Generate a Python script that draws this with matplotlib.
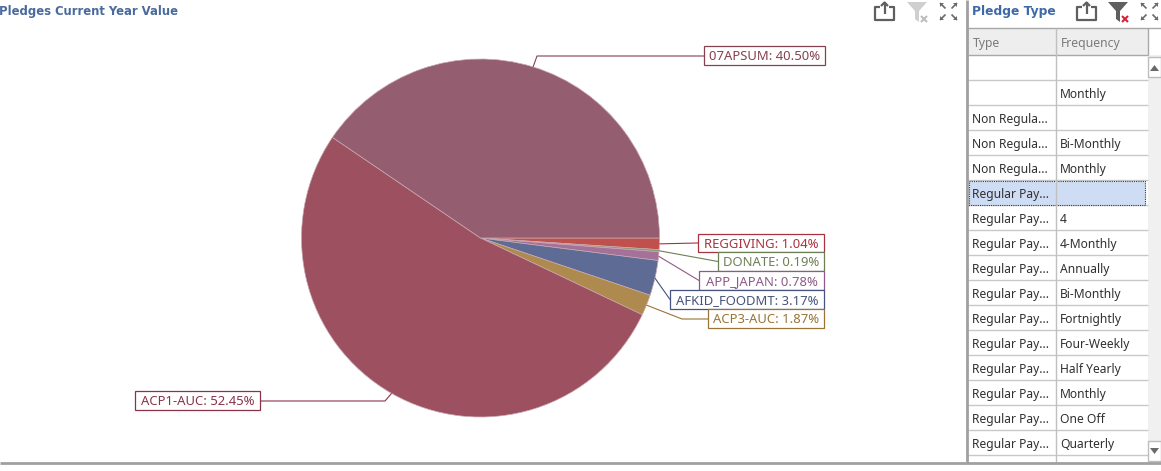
import numpy as np
import matplotlib
matplotlib.use('Agg')
import matplotlib.pyplot as plt
from matplotlib.patches import Rectangle, Polygon

plt.rcParams['font.family'] = ['Noto Sans', 'DejaVu Sans']

# pie data, clockwise from east
pie_names = ['REGGIVING', 'DONATE', 'APP_JAPAN', 'AFKID_FOODMT', 'ACP3-AUC', 'ACP1-AUC', '07APSUM']
pie_values = [1.04, 0.19, 0.78, 3.17, 1.87, 52.45, 40.50]
pie_colors = ['#C0504D', '#8C9A6C', '#A5719A', '#5E6C95', '#AE8A4E', '#9C5060', '#955D70']
label_colors = ['#A8323F', '#6F7F55', '#8F5A88', '#46527F', '#9A7434', '#8A3348', '#85414F']

# table data
table_types = ['', ''] + ['Non Regula...'] * 3 + ['Regular Pay...'] * 11
table_freqs = ['', 'Monthly', '', 'Bi-Monthly', 'Monthly', '', '4', '4-Monthly', 'Annually',
               'Bi-Monthly', 'Fortnightly', 'Four-Weekly', 'Half Yearly', 'Monthly', 'One Off', 'Quarterly']
table_cols = ['Type', 'Frequency']

W, H = 1161, 471
CX, CY, R = 480.5, 238, 179

# label boxes: left, top, right, bottom, then elbow x (None = straight leader)
boxes = [(698, 234, 824, 252), (718, 252, 824, 271), (699, 271, 824, 290),
         (670, 290, 824, 309), (708, 309, 824, 328), (135, 391, 260, 410), (704, 46, 825, 65)]
elbows = [None, None, None, None, (682, 319), (385, 401), (537, 56)]

fig = plt.figure(figsize=(W / 100, H / 100), dpi=100)
ax = fig.add_axes([0, 0, 1, 1])

# y axis runs downward below, so counterclock here reads clockwise on screen
ax.pie(pie_values, colors=pie_colors, center=(CX, CY), radius=R, startangle=0, counterclock=True,
       wedgeprops={'edgecolor': '#C9A9B0', 'linewidth': 0.5})
ax.set_xlim(0, W)
ax.set_ylim(H, 0)
ax.axis('off')


def line(xs, ys, color='#BDBDBD', lw=1.0, z=3):
    ax.plot(xs, ys, color=color, lw=lw, zorder=z, solid_capstyle='butt')


def share_icon(x, y, color):
    line([x + 5, x, x, x + 19, x + 19, x + 14], [y + 5, y + 5, y + 18, y + 18, y + 5, y + 5], color, 1.6)
    line([x + 9.5, x + 9.5], [y + 12, y], color, 1.6)
    line([x + 6, x + 9.5, x + 13], [y + 4, y + 0.5, y + 4], color, 1.6)


def funnel_icon(x, y, color, xcolor):
    ax.add_patch(Polygon([(x, y), (x + 20, y), (x + 12, y + 9), (x + 12, y + 20), (x + 8, y + 17), (x + 8, y + 9)],
                         closed=True, fc=color, ec='none', zorder=3))
    line([x + 14, x + 20], [y + 14, y + 20], xcolor, 1.5)
    line([x + 20, x + 14], [y + 14, y + 20], xcolor, 1.5)


def expand_icon(x, y, color):
    gap = 17
    for dx, dy, sx, sy in [(0, 0, 1, 1), (gap, 0, -1, 1), (0, gap, 1, -1), (gap, gap, -1, -1)]:
        px, py = x + dx, y + dy
        ax.add_patch(Polygon([(px, py), (px + sx * 4, py), (px, py + sy * 4)], closed=True, fc=color, ec='none', zorder=3))
        line([px, px + sx * 5.5], [py, py + sy * 5.5], color, 1.2)


# pie labels and leaders
edges = np.cumsum([0] + pie_values) / sum(pie_values) * 2 * np.pi
for i, name in enumerate(pie_names):
    mid = (edges[i] + edges[i + 1]) / 2
    ax_x = CX + R * np.cos(mid)
    ax_y = CY + R * np.sin(mid)
    l, t, r, b = boxes[i]
    ym = (t + b) / 2
    if elbows[i] is not None:
        end_x = r if l < CX else l
        line([ax_x, elbows[i][0], end_x], [ax_y, elbows[i][1], elbows[i][1]], label_colors[i], 0.8)
    else:
        line([ax_x, l], [ax_y, ym], label_colors[i], 0.8)
    ax.add_patch(Rectangle((l, t), r - l, b - t, fc='white', ec=label_colors[i], lw=0.9, zorder=4))
    ax.text((l + r) / 2, ym + 1, f'{name}: {pie_values[i]:.2f}%', color=label_colors[i], fontsize=9.4,
            ha='center', va='center', zorder=5)

# panel titles
ax.text(-1, 11, 'Pledges Current Year Value', color='#4A6A9C', fontsize=8.4, fontweight='bold',
        family='DejaVu Sans', va='center')
ax.text(972, 11.5, 'Pledge Type', color='#3F68A8', fontsize=8.8, fontweight='bold',
        family='DejaVu Sans', va='center')

# toolbars
share_icon(875, 2, '#5F5F5F')
funnel_icon(907, 2, '#CFCFCF', '#BDBDBD')
expand_icon(940, 3, '#6A6A6A')
share_icon(1077, 2, '#5F5F5F')
funnel_icon(1108, 2, '#5F5F5F', '#D8203C')
expand_icon(1141, 3, '#6A6A6A')

# table
ax.add_patch(Rectangle((968, 28), 181, 27, fc='#EEEEEE', ec='none', zorder=1))
ax.add_patch(Rectangle((1148, 55), 13, 407, fc='#F0F0F0', ec='none', zorder=1))
ax.add_patch(Rectangle((969, 181), 176, 24, fc='#CFDDF4', ec='#2A3A55', lw=0.8, ls=(0, (1, 1)), zorder=2))
line([968, 1161], [28, 28], '#A8A8A8', 1.0)
line([968, 1148], [55, 55], '#A8A8A8', 1.0)
for i in range(17):
    line([968, 1148], [80 + 25 * i, 80 + 25 * i], '#C8C8C8', 1.0, 1)
line([1055.5, 1055.5], [28, 462], '#C0C0C0', 1.0)
line([1148, 1148], [28, 55], '#A8A8A8', 1.0)
ax.text(973, 43, table_cols[0], color='#7B7B7B', fontsize=8.8, va='center')
ax.text(1061, 43, table_cols[1], color='#7B7B7B', fontsize=8.8, va='center')
for i, (kind, freq) in enumerate(zip(table_types, table_freqs)):
    y = 69.5 + 25 * i
    ax.text(972, y, kind, color='#303030', fontsize=8.7, va='center', zorder=4)
    ax.text(1060, y, freq, color='#303030', fontsize=8.7, va='center', zorder=4)

# scrollbar
for top, tri in [(57, [(1150, 71), (1159, 71), (1154.5, 65)]), (441, [(1150, 448), (1159, 448), (1154.5, 454)])]:
    ax.add_patch(Rectangle((1148, top), 13, 20, fc='white', ec='#BDBDBD', lw=1.0, zorder=3))
    ax.add_patch(Polygon(tri, closed=True, fc='#6A6A6A', ec='none', zorder=4))

# panel borders
line([967, 967], [0, 463], '#A0A0A0', 2.0, 6)
line([0, W], [462.5, 462.5], '#A0A0A0', 2.0, 6)

fig.savefig('out.png', dpi=100)
